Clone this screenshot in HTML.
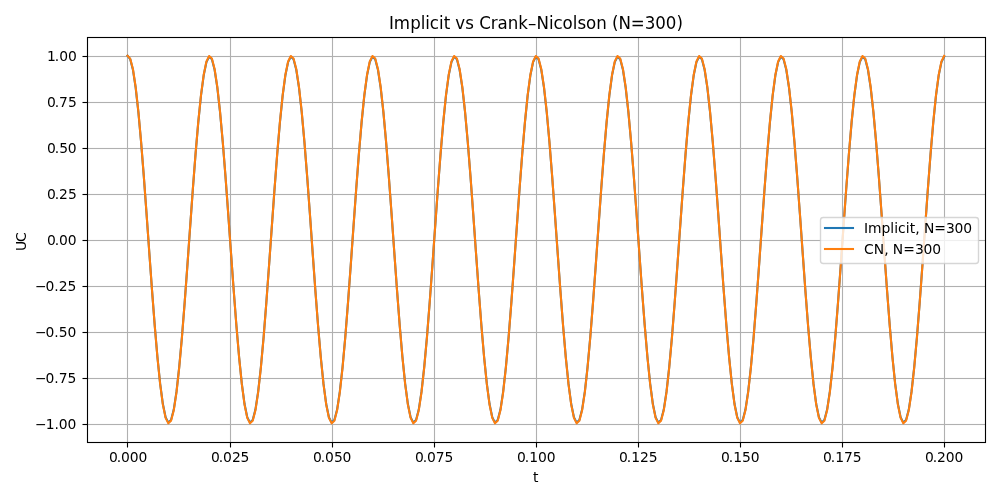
<!DOCTYPE html>
<html><head><meta charset="utf-8"><title>Implicit vs Crank–Nicolson (N=300)</title>
<style>html,body{margin:0;padding:0;background:#fff;overflow:hidden}svg{display:block}</style></head><body>
<svg width="1000" height="500" viewBox="0 0 1000 500"><defs><clipPath id="c"><rect x="87" y="37" width="898" height="405"/></clipPath></defs>
<rect x="0" y="0" width="1000" height="500" fill="#fff"/>
<path d="M127.5 37.5V442.5M230.5 37.5V442.5M332.5 37.5V442.5M434.5 37.5V442.5M536.5 37.5V442.5M638.5 37.5V442.5M740.5 37.5V442.5M842.5 37.5V442.5M944.5 37.5V442.5M87.5 424.5H985.5M87.5 378.5H985.5M87.5 332.5H985.5M87.5 286.5H985.5M87.5 240.5H985.5M87.5 194.5H985.5M87.5 148.5H985.5M87.5 102.5H985.5M87.5 56.5H985.5" fill="none" stroke="#b0b0b0" stroke-width="1.111" clip-path="url(#c)"/>
<path d="M87.5 423.5H985.5M87.5 425.5H985.5M87.5 377.5H985.5M87.5 379.5H985.5M87.5 331.5H985.5M87.5 333.5H985.5M87.5 285.5H985.5M87.5 287.5H985.5M87.5 239.5H985.5M87.5 241.5H985.5M87.5 193.5H985.5M87.5 195.5H985.5M87.5 147.5H985.5M87.5 149.5H985.5M87.5 101.5H985.5M87.5 103.5H985.5M87.5 55.5H985.5M87.5 57.5H985.5" fill="none" stroke="#b0b0b0" stroke-opacity="0.0555" stroke-width="1" clip-path="url(#c)"/>
<path d="M127.49 55.71 130.21 59.12 132.93 69.71 135.65 87.62 138.38 112.16 141.10 142.27 143.82 176.63 146.54 213.75 149.26 252.00 151.99 289.71 154.71 325.24 157.43 357.02 160.15 383.68 162.88 404.04 165.60 417.21 168.32 422.63 171.04 420.05 173.77 409.58 176.49 391.69 179.21 367.16 181.93 337.05 184.65 302.69 187.38 265.57 190.10 227.32 192.82 189.61 195.54 154.08 198.27 122.30 200.99 95.64 203.71 75.28 206.43 62.11 209.15 56.69 211.88 59.27 214.60 69.73 217.32 87.62 220.04 112.16 222.77 142.27 225.49 176.63 228.21 213.75 230.93 252.00 233.66 289.71 236.38 325.24 239.10 357.02 241.82 383.68 244.54 404.04 247.27 417.21 249.99 422.63 252.71 420.05 255.43 409.58 258.16 391.69 260.88 367.16 263.60 337.05 266.32 302.69 269.04 265.57 271.77 227.32 274.49 189.61 277.21 154.08 279.93 122.30 282.66 95.64 285.38 75.28 288.10 62.11 290.82 56.69 293.54 59.27 296.27 69.73 298.99 87.62 301.71 112.16 304.43 142.27 307.16 176.63 309.88 213.75 312.60 252.00 315.32 289.71 318.05 325.24 320.77 357.02 323.49 383.68 326.21 404.04 328.93 417.21 331.66 422.63 334.38 420.05 337.10 409.58 339.82 391.69 342.55 367.16 345.27 337.05 347.99 302.69 350.71 265.57 353.43 227.32 356.16 189.61 358.88 154.08 361.60 122.30 364.32 95.64 367.05 75.28 369.77 62.11 372.49 56.69 375.21 59.27 377.94 69.73 380.66 87.62 383.38 112.16 386.10 142.27 388.82 176.63 391.55 213.75 394.27 252.00 396.99 289.71 399.71 325.24 402.44 357.02 405.16 383.68 407.88 404.04 410.60 417.21 413.32 422.63 416.05 420.05 418.77 409.58 421.49 391.69 424.21 367.16 426.94 337.05 429.66 302.69 432.38 265.57 435.10 227.32 437.82 189.61 440.55 154.08 443.27 122.30 445.99 95.64 448.71 75.28 451.44 62.11 454.16 56.69 456.88 59.27 459.60 69.73 462.33 87.62 465.05 112.16 467.77 142.27 470.49 176.63 473.21 213.75 475.94 252.00 478.66 289.71 481.38 325.24 484.10 357.02 486.83 383.68 489.55 404.04 492.27 417.21 494.99 422.63 497.71 420.05 500.44 409.58 503.16 391.69 505.88 367.16 508.60 337.05 511.33 302.69 514.05 265.57 516.77 227.32 519.49 189.61 522.22 154.08 524.94 122.30 527.66 95.64 530.38 75.28 533.10 62.11 535.83 56.69 538.55 59.27 541.27 69.73 543.99 87.62 546.72 112.16 549.44 142.27 552.16 176.63 554.88 213.75 557.60 252.00 560.33 289.71 563.05 325.24 565.77 357.02 568.49 383.68 571.22 404.04 573.94 417.21 576.66 422.63 579.38 420.05 582.10 409.58 584.83 391.69 587.55 367.16 590.27 337.05 592.99 302.69 595.72 265.57 598.44 227.32 601.16 189.61 603.88 154.08 606.61 122.30 609.33 95.64 612.05 75.28 614.77 62.11 617.49 56.69 620.22 59.27 622.94 69.73 625.66 87.62 628.38 112.16 631.11 142.27 633.83 176.63 636.55 213.75 639.27 252.00 641.99 289.71 644.72 325.24 647.44 357.02 650.16 383.68 652.88 404.04 655.61 417.21 658.33 422.63 661.05 420.05 663.77 409.58 666.50 391.69 669.22 367.16 671.94 337.05 674.66 302.69 677.38 265.57 680.11 227.32 682.83 189.61 685.55 154.08 688.27 122.30 691.00 95.64 693.72 75.28 696.44 62.11 699.16 56.69 701.88 59.27 704.61 69.73 707.33 87.62 710.05 112.16 712.77 142.27 715.50 176.63 718.22 213.75 720.94 252.00 723.66 289.71 726.38 325.24 729.11 357.02 731.83 383.68 734.55 404.04 737.27 417.21 740.00 422.63 742.72 420.05 745.44 409.58 748.16 391.69 750.89 367.16 753.61 337.05 756.33 302.69 759.05 265.57 761.77 227.32 764.50 189.61 767.22 154.08 769.94 122.30 772.66 95.64 775.39 75.28 778.11 62.11 780.83 56.69 783.55 59.27 786.27 69.73 789.00 87.62 791.72 112.16 794.44 142.27 797.16 176.63 799.89 213.75 802.61 252.00 805.33 289.71 808.05 325.24 810.78 357.02 813.50 383.68 816.22 404.04 818.94 417.21 821.66 422.63 824.39 420.05 827.11 409.58 829.83 391.69 832.55 367.16 835.28 337.05 838.00 302.69 840.72 265.57 843.44 227.32 846.16 189.61 848.89 154.08 851.61 122.30 854.33 95.64 857.05 75.28 859.78 62.11 862.50 56.69 865.22 59.27 867.94 69.73 870.66 87.62 873.39 112.16 876.11 142.27 878.83 176.63 881.55 213.75 884.28 252.00 887.00 289.71 889.72 325.24 892.44 357.02 895.17 383.68 897.89 404.04 900.61 417.21 903.33 422.63 906.05 420.05 908.78 409.58 911.50 391.69 914.22 367.16 916.94 337.05 919.67 302.69 922.39 265.57 925.11 227.32 927.83 189.61 930.55 154.08 933.28 122.30 936.00 95.64 938.72 75.28 941.44 62.11 944.17 56.69" fill="none" stroke="#1f77b4" stroke-width="2.083" stroke-linejoin="round" stroke-linecap="square" clip-path="url(#c)"/>
<path d="M127.49 55.71 130.21 58.67 132.93 68.97 135.65 87.00 138.38 111.57 141.10 141.81 143.82 176.29 146.54 213.55 149.26 251.95 151.99 289.81 154.71 325.48 157.43 357.40 160.15 384.18 162.88 404.63 165.60 417.88 168.32 423.34 171.04 420.77 173.77 410.29 176.49 392.35 179.21 367.73 181.93 337.52 184.65 303.03 187.38 265.77 190.10 227.37 192.82 189.51 195.54 153.84 198.27 121.92 200.99 95.14 203.71 74.68 206.43 61.44 209.15 55.98 211.88 58.55 214.60 69.03 217.32 86.97 220.04 111.59 222.77 141.80 225.49 176.29 228.21 213.55 230.93 251.95 233.66 289.81 236.38 325.48 239.10 357.40 241.82 384.18 244.54 404.63 247.27 417.88 249.99 423.34 252.71 420.77 255.43 410.29 258.16 392.35 260.88 367.73 263.60 337.52 266.32 303.03 269.04 265.77 271.77 227.37 274.49 189.51 277.21 153.84 279.93 121.92 282.66 95.14 285.38 74.68 288.10 61.44 290.82 55.98 293.54 58.55 296.27 69.03 298.99 86.97 301.71 111.59 304.43 141.80 307.16 176.29 309.88 213.55 312.60 251.95 315.32 289.81 318.05 325.48 320.77 357.40 323.49 384.18 326.21 404.63 328.93 417.88 331.66 423.34 334.38 420.77 337.10 410.29 339.82 392.35 342.55 367.73 345.27 337.52 347.99 303.03 350.71 265.77 353.43 227.37 356.16 189.51 358.88 153.84 361.60 121.92 364.32 95.14 367.05 74.68 369.77 61.44 372.49 55.98 375.21 58.55 377.94 69.03 380.66 86.97 383.38 111.59 386.10 141.80 388.82 176.29 391.55 213.55 394.27 251.95 396.99 289.81 399.71 325.48 402.44 357.40 405.16 384.18 407.88 404.63 410.60 417.88 413.32 423.34 416.05 420.77 418.77 410.29 421.49 392.35 424.21 367.73 426.94 337.52 429.66 303.03 432.38 265.77 435.10 227.37 437.82 189.51 440.55 153.84 443.27 121.92 445.99 95.14 448.71 74.68 451.44 61.44 454.16 55.98 456.88 58.55 459.60 69.03 462.33 86.97 465.05 111.59 467.77 141.80 470.49 176.29 473.21 213.55 475.94 251.95 478.66 289.81 481.38 325.48 484.10 357.40 486.83 384.18 489.55 404.63 492.27 417.88 494.99 423.34 497.71 420.77 500.44 410.29 503.16 392.35 505.88 367.73 508.60 337.52 511.33 303.03 514.05 265.77 516.77 227.37 519.49 189.51 522.22 153.84 524.94 121.92 527.66 95.14 530.38 74.68 533.10 61.44 535.83 55.98 538.55 58.55 541.27 69.03 543.99 86.97 546.72 111.59 549.44 141.80 552.16 176.29 554.88 213.55 557.60 251.95 560.33 289.81 563.05 325.48 565.77 357.40 568.49 384.18 571.22 404.63 573.94 417.88 576.66 423.34 579.38 420.77 582.10 410.29 584.83 392.35 587.55 367.73 590.27 337.52 592.99 303.03 595.72 265.77 598.44 227.37 601.16 189.51 603.88 153.84 606.61 121.92 609.33 95.14 612.05 74.68 614.77 61.44 617.49 55.98 620.22 58.55 622.94 69.03 625.66 86.97 628.38 111.59 631.11 141.80 633.83 176.29 636.55 213.55 639.27 251.95 641.99 289.81 644.72 325.48 647.44 357.40 650.16 384.18 652.88 404.63 655.61 417.88 658.33 423.34 661.05 420.77 663.77 410.29 666.50 392.35 669.22 367.73 671.94 337.52 674.66 303.03 677.38 265.77 680.11 227.37 682.83 189.51 685.55 153.84 688.27 121.92 691.00 95.14 693.72 74.68 696.44 61.44 699.16 55.98 701.88 58.55 704.61 69.03 707.33 86.97 710.05 111.59 712.77 141.80 715.50 176.29 718.22 213.55 720.94 251.95 723.66 289.81 726.38 325.48 729.11 357.40 731.83 384.18 734.55 404.63 737.27 417.88 740.00 423.34 742.72 420.77 745.44 410.29 748.16 392.35 750.89 367.73 753.61 337.52 756.33 303.03 759.05 265.77 761.77 227.37 764.50 189.51 767.22 153.84 769.94 121.92 772.66 95.14 775.39 74.68 778.11 61.44 780.83 55.98 783.55 58.55 786.27 69.03 789.00 86.97 791.72 111.59 794.44 141.80 797.16 176.29 799.89 213.55 802.61 251.95 805.33 289.81 808.05 325.48 810.78 357.40 813.50 384.18 816.22 404.63 818.94 417.88 821.66 423.34 824.39 420.77 827.11 410.29 829.83 392.35 832.55 367.73 835.28 337.52 838.00 303.03 840.72 265.77 843.44 227.37 846.16 189.51 848.89 153.84 851.61 121.92 854.33 95.14 857.05 74.68 859.78 61.44 862.50 55.98 865.22 58.55 867.94 69.03 870.66 86.97 873.39 111.59 876.11 141.80 878.83 176.29 881.55 213.55 884.28 251.95 887.00 289.81 889.72 325.48 892.44 357.40 895.17 384.18 897.89 404.63 900.61 417.88 903.33 423.34 906.05 420.77 908.78 410.29 911.50 392.35 914.22 367.73 916.94 337.52 919.67 303.03 922.39 265.77 925.11 227.37 927.83 189.51 930.55 153.84 933.28 121.92 936.00 95.14 938.72 74.68 941.44 61.44 944.17 55.98" fill="none" stroke="#ff7f0e" stroke-width="2.083" stroke-linejoin="round" stroke-linecap="square" clip-path="url(#c)"/>
<path d="M87.5 442.5V37.5M985.5 442.5V37.5M87.5 442.5H985.5M87.5 37.5H985.5" fill="none" stroke="#000" stroke-width="1.111" stroke-linecap="square"/>
<path d="M86.945 36.5H986.055M86.945 38.5H986.055M86.945 441.5H986.055M86.945 443.5H986.055M82.5 423.5H87.5M82.5 425.5H87.5M82.5 377.5H87.5M82.5 379.5H87.5M82.5 331.5H87.5M82.5 333.5H87.5M82.5 285.5H87.5M82.5 287.5H87.5M82.5 239.5H87.5M82.5 241.5H87.5M82.5 193.5H87.5M82.5 195.5H87.5M82.5 147.5H87.5M82.5 149.5H87.5M82.5 101.5H87.5M82.5 103.5H87.5M82.5 55.5H87.5M82.5 57.5H87.5" fill="none" stroke="#000" stroke-opacity="0.0555" stroke-width="1"/>
<path d="M127.5 442.5V447.5M230.5 442.5V447.5M332.5 442.5V447.5M434.5 442.5V447.5M536.5 442.5V447.5M638.5 442.5V447.5M740.5 442.5V447.5M842.5 442.5V447.5M944.5 442.5V447.5M87.5 424.5H82.5M87.5 378.5H82.5M87.5 332.5H82.5M87.5 286.5H82.5M87.5 240.5H82.5M87.5 194.5H82.5M87.5 148.5H82.5M87.5 102.5H82.5M87.5 56.5H82.5" fill="none" stroke="#000" stroke-width="1.111"/>
<rect x="820.5" y="217.5" width="158" height="46" rx="2.78" ry="2.78" fill="#fff" fill-opacity="0.8" stroke="#ccc" stroke-opacity="0.8" stroke-width="1.389"/>
<path d="M825 228H853" stroke="#1f77b4" stroke-width="2.083" stroke-linecap="square"/>
<path d="M825 249H853" stroke="#ff7f0e" stroke-width="2.083" stroke-linecap="square"/>
<g style="font-family:'DejaVu Sans','Liberation Sans',sans-serif" fill="#000"><text x="108.993 116.68 120.977 129.805 138.383" y="461.50" font-size="13.889">0.000</text>
<text x="210.953 218.765 222.937 232.015 240.468" y="461.50" font-size="13.889">0.025</text>
<text x="312.913 320.725 324.897 333.975 342.553" y="461.50" font-size="13.889">0.050</text>
<text x="414.878 422.69 426.987 435.815 444.393" y="461.50" font-size="13.889">0.075</text>
<text x="516.963 524.775 529.197 538.025 546.853" y="461.50" font-size="13.889">0.100</text>
<text x="618.923 626.735 631.157 639.985 648.813" y="461.50" font-size="13.889">0.125</text>
<text x="720.883 728.695 733.242 741.945 750.773" y="461.50" font-size="13.889">0.150</text>
<text x="822.963 830.775 835.197 844.025 852.853" y="461.50" font-size="13.889">0.175</text>
<text x="924.923 932.735 936.907 945.735 954.563" y="461.50" font-size="13.889">0.200</text>
<text x="34.899 45.649 54.477 58.758 67.586" y="428.62" font-size="13.889">−1.00</text>
<text x="34.899 45.524 54.352 58.758 67.586" y="382.63" font-size="13.889">−0.75</text>
<text x="34.899 45.524 54.352 58.758 67.586" y="336.65" font-size="13.889">−0.50</text>
<text x="34.899 45.524 54.352 58.758 67.586" y="290.66" font-size="13.889">−0.25</text>
<text x="46.904 54.716 58.888 67.716" y="244.67" font-size="13.889">0.00</text>
<text x="46.899 54.836 58.883 68.086" y="198.69" font-size="13.889">0.25</text>
<text x="46.899 54.836 59.258 67.711" y="152.70" font-size="13.889">0.50</text>
<text x="46.899 54.836 58.883 68.086" y="106.71" font-size="13.889">0.75</text>
<text x="46.899 54.836 59.258 68.086" y="60.73" font-size="13.889">1.00</text>
<text x="533.103" y="481.50" font-size="13.889">t</text>
<text x="15.998 25.139" y="241.15" font-size="13.889" transform="rotate(-90 25.92 241.15)">UC</text>
<text x="388.953 393.737 410.201 420.645 425.144 429.643 438.926 443.675 449.956 455.24 465.229 473.766 479.191 490.686 497.532 507.741 518.295 527.933 536.5 548.961 553.46 562.493 572.672 577.421 585.973 596.167 606.721 612.006 618.506 630.702 644.664 655.248 665.722 676.431" y="28.75" font-size="16.667" transform="matrix(1 0 0 1.08 0 -2.300)">Implicit vs Crank–Nicolson (N=300)</text>
<text x="863.91 867.988 881.504 890.316 894.176 898.035 905.66 909.629 915.207 919.363 923.894 934.144 945.894 954.597 963.176" y="232.67" font-size="13.889">Implicit, N=300</text>
<text x="864.03 873.718 884.218 888.499 892.655 903.296 914.921 923.499 932.202" y="253.55" font-size="13.889">CN, N=300</text></g>
</svg>
</body></html>
